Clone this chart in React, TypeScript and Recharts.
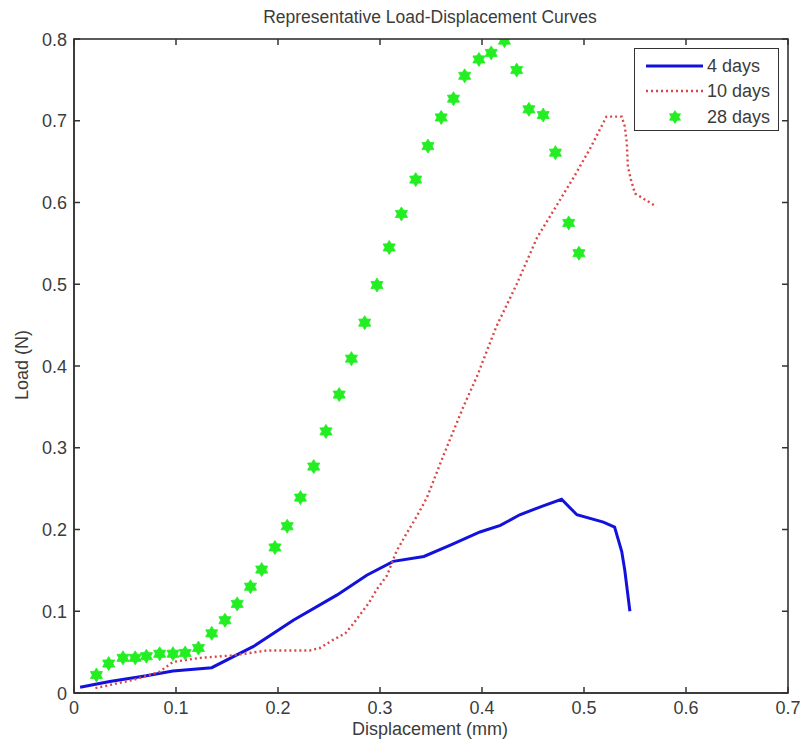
import { ComposedChart, Line, Scatter, XAxis, YAxis, Legend } from "recharts";

// 4 days (solid blue)
const disp4 = [0.006, 0.035, 0.071, 0.097, 0.135, 0.176, 0.215, 0.258, 0.287, 0.313, 0.343, 0.369, 0.398, 0.418, 0.437, 0.46, 0.478, 0.493, 0.519, 0.53, 0.537, 0.54, 0.545];
const load4 = [0.007, 0.014, 0.021, 0.027, 0.031, 0.057, 0.089, 0.12, 0.144, 0.161, 0.167, 0.181, 0.197, 0.205, 0.218, 0.229, 0.237, 0.218, 0.209, 0.203, 0.173, 0.15, 0.1];

// 10 days (red dotted)
const disp10 = [0.021, 0.058, 0.084, 0.097, 0.124, 0.156, 0.189, 0.231, 0.241, 0.254, 0.266, 0.274, 0.28, 0.289, 0.297, 0.307, 0.316, 0.326, 0.336, 0.346, 0.362, 0.382, 0.395, 0.414, 0.434, 0.454, 0.473, 0.49, 0.506, 0.522, 0.537, 0.54, 0.542, 0.543, 0.546, 0.55, 0.558, 0.571];
const load10 = [0.006, 0.016, 0.026, 0.038, 0.043, 0.046, 0.052, 0.052, 0.055, 0.065, 0.073, 0.085, 0.095, 0.11, 0.127, 0.144, 0.173, 0.195, 0.216, 0.239, 0.29, 0.351, 0.387, 0.448, 0.5, 0.557, 0.596, 0.631, 0.666, 0.705, 0.705, 0.693, 0.672, 0.644, 0.628, 0.611, 0.605, 0.595];

// 28 days (green star markers)
const disp28 = [0.022, 0.034, 0.048, 0.06, 0.071, 0.084, 0.097, 0.109, 0.122, 0.135, 0.148, 0.16, 0.173, 0.184, 0.197, 0.209, 0.222, 0.235, 0.247, 0.26, 0.272, 0.285, 0.297, 0.309, 0.321, 0.335, 0.347, 0.36, 0.372, 0.383, 0.397, 0.409, 0.422, 0.434, 0.446, 0.46, 0.472, 0.485, 0.495];
const load28 = [0.022, 0.036, 0.043, 0.043, 0.045, 0.048, 0.048, 0.049, 0.055, 0.073, 0.089, 0.109, 0.13, 0.151, 0.178, 0.204, 0.239, 0.277, 0.32, 0.365, 0.409, 0.453, 0.499, 0.545, 0.586, 0.628, 0.669, 0.704, 0.727, 0.755, 0.775, 0.783, 0.798, 0.762, 0.714, 0.707, 0.661, 0.575, 0.538];

const xTicks = [0, 0.1, 0.2, 0.3, 0.4, 0.5, 0.6, 0.7];
const yTicks = [0, 0.1, 0.2, 0.3, 0.4, 0.5, 0.6, 0.7, 0.8];

const data4 = disp4.map((x, i) => ({ x, y: load4[i] }));
const data10 = disp10.map((x, i) => ({ x, y: load10[i] }));
const data28 = disp28.map((x, i) => ({ x, y: load28[i] }));

const FONT = "'Liberation Sans', Arial, Helvetica, sans-serif";
const AXIS = "#333333";
const TEXT = "#3c3c3c";
const BLUE = "#1212dc";
const RED = "#d94848";
const GREEN = "#22ee22";

// plot box (chart 801x747 minus margins and axis sizes)
const PLOT_L = 74;
const PLOT_T = 39;
const PLOT_W = 714;
const PLOT_H = 654;
const TICK = 6;

const starPath = (cx: number, cy: number, ro: number, ri: number) => {
  const pts: string[] = [];
  for (let k = 0; k < 12; k++) {
    const r = k % 2 === 0 ? ro : ri;
    const a = (Math.PI / 6) * k - Math.PI / 2;
    pts.push(`${(cx + r * Math.cos(a)).toFixed(2)},${(cy + r * Math.sin(a)).toFixed(2)}`);
  }
  return "M" + pts.join("L") + "Z";
};

const Star = (props: any) => {
  const { cx, cy } = props;
  if (cx == null || cy == null) return <g />;
  return <path d={starPath(cx, cy, 7, 4.2)} fill={GREEN} stroke={GREEN} strokeWidth={0.8} />;
};

const BottomTick = ({ x, y, payload }: any) => (
  <text x={x} y={y + 21} textAnchor="middle" fontSize={18} fill={TEXT} fontFamily={FONT}>
    {String(payload.value)}
  </text>
);

const LeftTick = ({ x, y, payload }: any) => (
  <text x={x - 7} y={y + 6.5} textAnchor="end" fontSize={18} fill={TEXT} fontFamily={FONT}>
    {String(payload.value)}
  </text>
);

// box frame with inward ticks on all four sides, laid over the chart
const Frame = () => {
  const xs = xTicks.map((t) => PLOT_L + (t / 0.7) * PLOT_W);
  const ys = yTicks.map((t) => PLOT_T + PLOT_H - (t / 0.8) * PLOT_H);
  const b = PLOT_T + PLOT_H;
  const r = PLOT_L + PLOT_W;
  return (
    <svg width={801} height={747} style={{ position: "absolute", left: 0, top: 0, pointerEvents: "none" }}>
      <rect x={PLOT_L} y={PLOT_T} width={PLOT_W} height={PLOT_H} fill="none" stroke={AXIS} strokeWidth={1.6} />
      {xs.map((x, i) => (
        <g key={"x" + i}>
          <line x1={x} x2={x} y1={b} y2={b - TICK} stroke={AXIS} strokeWidth={1.5} />
          <line x1={x} x2={x} y1={PLOT_T} y2={PLOT_T + TICK} stroke={AXIS} strokeWidth={1.5} />
        </g>
      ))}
      {ys.map((y, i) => (
        <g key={"y" + i}>
          <line x1={PLOT_L} x2={PLOT_L + TICK} y1={y} y2={y} stroke={AXIS} strokeWidth={1.5} />
          <line x1={r} x2={r - TICK} y1={y} y2={y} stroke={AXIS} strokeWidth={1.5} />
        </g>
      ))}
    </svg>
  );
};

const legendItems = [
  { label: "4 days", kind: "solid" },
  { label: "10 days", kind: "dotted" },
  { label: "28 days", kind: "star" },
];

const LegendBox = () => (
  <div
    style={{
      width: 145,
      height: 83,
      border: `1.5px solid ${AXIS}`,
      background: "#fff",
      boxSizing: "border-box",
      paddingTop: 4,
    }}
  >
    {legendItems.map((it) => (
      <div key={it.label} style={{ display: "flex", alignItems: "center", height: 25.5 }}>
        <svg width={72} height={20} style={{ flex: "none" }}>
          {it.kind === "solid" && <line x1={11} x2={68} y1={10} y2={10} stroke={BLUE} strokeWidth={3} />}
          {it.kind === "dotted" && (
            <line x1={11} x2={68} y1={10} y2={10} stroke={RED} strokeWidth={2.4} strokeDasharray="2 3" />
          )}
          {it.kind === "star" && <path d={starPath(40, 10, 7, 4.2)} fill={GREEN} />}
        </svg>
        <span style={{ fontFamily: FONT, fontSize: 18, color: TEXT, lineHeight: "20px" }}>{it.label}</span>
      </div>
    ))}
  </div>
);

const overlayText = {
  position: "absolute" as const,
  fontFamily: FONT,
  color: TEXT,
  whiteSpace: "nowrap" as const,
  pointerEvents: "none" as const,
};

export default function App() {
  return (
    <div style={{ position: "absolute", left: 0, top: 0, width: 801, height: 747, background: "#fff", overflow: "hidden" }}>
      <ComposedChart width={801} height={747} margin={{ top: 39, right: 13, bottom: 14, left: 14 }}>
        <XAxis
          type="number"
          dataKey="x"
          domain={[0, 0.7]}
          ticks={xTicks}
          allowDataOverflow
          height={40}
          tickSize={0}
          tickMargin={0}
          tick={BottomTick}
          axisLine={{ stroke: AXIS, strokeWidth: 1.5 }}
        />
        <YAxis
          type="number"
          dataKey="y"
          domain={[0, 0.8]}
          ticks={yTicks}
          allowDataOverflow
          width={60}
          tickSize={0}
          tickMargin={0}
          tick={LeftTick}
          axisLine={{ stroke: AXIS, strokeWidth: 1.5 }}
        />
        <Line
          data={data4}
          dataKey="y"
          name="4 days"
          type="linear"
          stroke={BLUE}
          strokeWidth={3}
          dot={false}
          activeDot={false}
          isAnimationActive={false}
        />
        <Line
          data={data10}
          dataKey="y"
          name="10 days"
          type="linear"
          stroke={RED}
          strokeWidth={2.4}
          strokeDasharray="2 3"
          dot={false}
          activeDot={false}
          isAnimationActive={false}
        />
        <Scatter data={data28} dataKey="y" name="28 days" fill={GREEN} shape={Star} isAnimationActive={false} />
        <Legend
          layout="horizontal"
          verticalAlign="middle"
          align="center"
          content={LegendBox}
          wrapperStyle={{ position: "absolute", top: 48, left: 634, width: 146, zIndex: 2 }}
        />
      </ComposedChart>
      <Frame />
      <div style={{ ...overlayText, left: 60, width: 740, top: 7, textAlign: "center", fontSize: 17.5 }}>
        Representative Load-Displacement Curves
      </div>
      <div style={{ ...overlayText, left: 60, width: 740, top: 719, textAlign: "center", fontSize: 18 }}>
        Displacement (mm)
      </div>
      <div
        style={{
          ...overlayText,
          left: 22,
          top: 365,
          transform: "translate(-50%, -50%) rotate(-90deg)",
          fontSize: 18,
        }}
      >
        Load (N)
      </div>
    </div>
  );
}
